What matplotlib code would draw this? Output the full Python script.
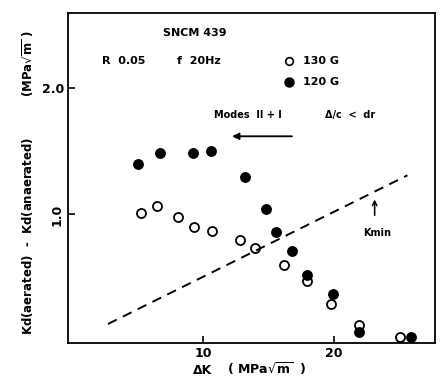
import matplotlib
matplotlib.use("Agg")
import matplotlib.pyplot as plt

plt.rcParams["font.family"] = ["DejaVu Sans"]
plt.rcParams["mathtext.default"] = "regular"

# open circles: 130 G
dk_130 = [5.3, 6.5, 8.1, 9.3, 10.7, 12.8, 14.0, 16.2, 17.9, 19.8, 21.9, 25.0]
dkd_130 = [1.01, 1.07, 0.98, 0.90, 0.87, 0.80, 0.73, 0.60, 0.47, 0.29, 0.12, 0.03]
# filled circles: 120 G
dk_120 = [5.0, 6.7, 9.2, 10.6, 13.2, 14.8, 15.6, 16.8, 17.9, 19.9, 21.9, 25.9]
dkd_120 = [1.40, 1.49, 1.49, 1.50, 1.30, 1.04, 0.86, 0.71, 0.52, 0.37, 0.07, 0.03]
# Kmin dashed line end points
kmin_x = [2.75, 25.6]
kmin_y = [0.13, 1.31]

xticks = [10, 20]
yticks = [1.0, 2.0]

fig = plt.figure(figsize=(4.42, 3.78), dpi=100)
ax = fig.add_axes([0.154, 0.093, 0.83, 0.873])

ax.plot(dk_130, dkd_130, "o", mfc="white", mec="black", mew=1.3, ms=6.5)
ax.plot(dk_120, dkd_120, "o", mfc="black", mec="black", ms=6.8)
ax.plot(kmin_x, kmin_y, "--", color="black", lw=1.4, dashes=(5, 3.5))

ax.set_xlim(-0.3, 27.7)
ax.set_ylim(-0.02, 2.6)
ax.set_xticks(xticks)
ax.set_xticklabels([str(t) for t in xticks], fontsize=9, fontweight="bold")
ax.set_yticks(yticks)
ax.set_yticklabels(["1.0", "2.0"], fontsize=9, fontweight="bold")
ax.get_yticklabels()[0].set_rotation(90)
ax.get_yticklabels()[0].set_va("center")
ax.tick_params(direction="in", length=5, width=1.2, pad=3)
for s in ax.spines.values():
    s.set_linewidth(1.3)

bold = dict(fontsize=8, fontweight="bold", color="black")
ax.text(9.4, 2.44, "SNCM 439", ha="center", va="center", **bold)
ax.text(2.3, 2.22, "R  0.05", ha="left", va="center", **bold)
ax.text(8.0, 2.22, "f  20Hz", ha="left", va="center", **bold)
ax.plot([16.6], [2.22], "o", mfc="white", mec="black", mew=1.2, ms=5.5)
ax.text(17.6, 2.22, "130 G", ha="left", va="center", **bold)
ax.plot([16.6], [2.05], "o", mfc="black", mec="black", ms=6.5)
ax.text(17.6, 2.05, "120 G", ha="left", va="center", **bold)

ax.text(10.8, 1.79, "Modes  II + I", ha="left", va="center", fontsize=7,
        fontweight="bold")
ax.text(19.3, 1.79, "Δ/c  <  dr", ha="left", va="center", fontsize=7,
        fontweight="bold")
ax.annotate("", xy=(12.0, 1.62), xytext=(17.0, 1.62),
            arrowprops=dict(arrowstyle="-|>", color="black", lw=1.3,
                            mutation_scale=10))
ax.annotate("", xy=(23.1, 1.14), xytext=(23.1, 0.97),
            arrowprops=dict(arrowstyle="->", color="black", lw=1.1,
                            mutation_scale=8))
ax.text(23.3, 0.85, "Kmin", ha="center", va="center", fontsize=7,
        fontweight="bold")

fig.text(0.063, 0.516,
         "Kd(aerated)  -  Kd(anaerated)          (MPa$\\sqrt{m}$ )",
         rotation=90, ha="center", va="center", fontsize=8.5, fontweight="bold")
fig.text(0.437, 0.003, "ΔK", ha="left", va="bottom", fontsize=9,
         fontweight="bold")
fig.text(0.513, 0.003, "( MPa$\\sqrt{m}$  )", ha="left", va="bottom",
         fontsize=9, fontweight="bold")

fig.savefig("out.png", dpi=100)
